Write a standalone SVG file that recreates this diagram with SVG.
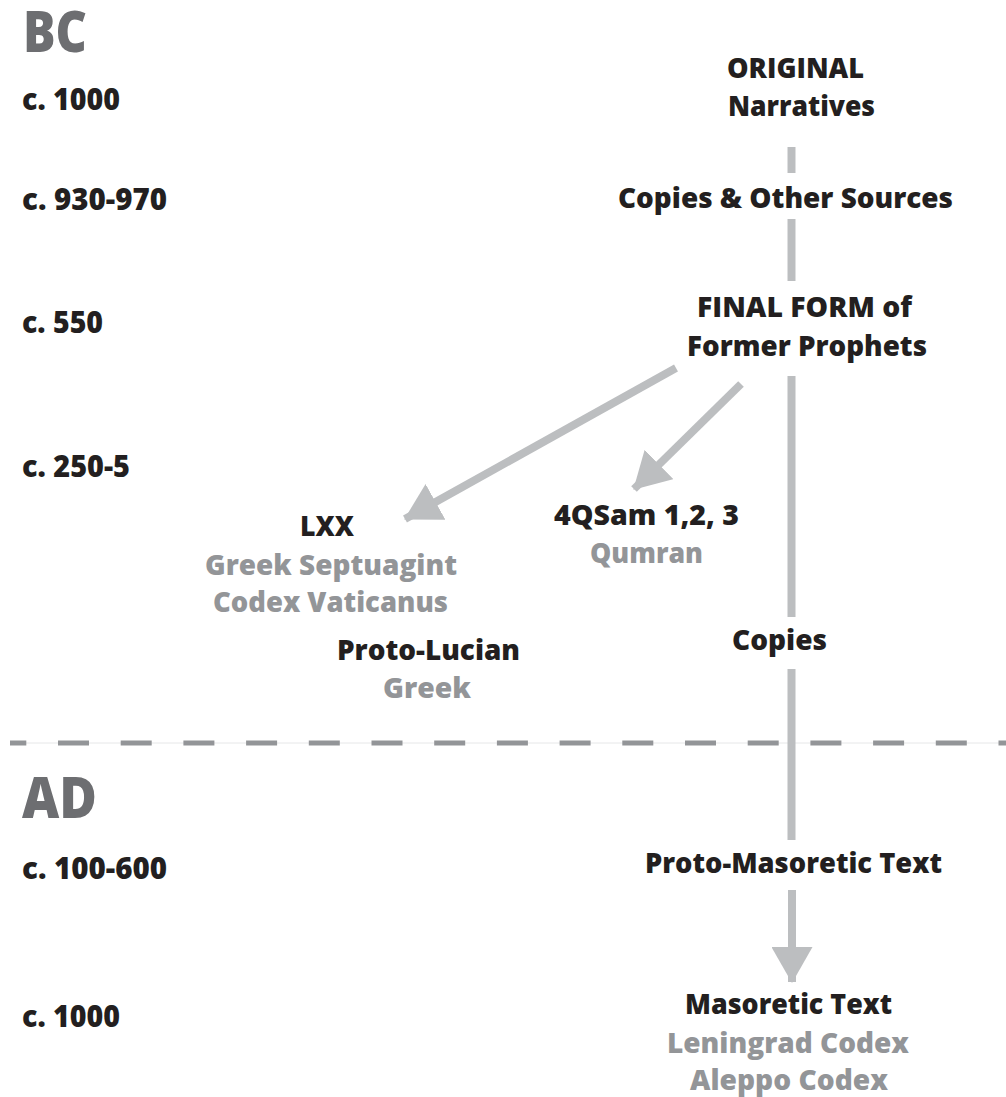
<svg xmlns="http://www.w3.org/2000/svg" width="1006" height="1097" viewBox="0 0 1006 1097">
  <style>
    text { font-family: "Open Sans", "Noto Sans", "Liberation Sans", sans-serif; font-weight: 800; }
    .lbl { font-size: 28px; fill: #231f20; text-anchor: middle; }
    .sub { font-size: 28px; fill: #939598; text-anchor: middle; }
    .date { font-size: 30px; fill: #231f20; }
    .era { font-size: 56px; fill: #6d6e71; }
    .conn { stroke: #bcbec0; stroke-width: 8; fill: none; stroke-linecap: butt; }
  </style>
  <defs>
    <marker id="head" markerUnits="userSpaceOnUse" viewBox="0 0 36 41" markerWidth="36" markerHeight="41" refX="35" refY="20.5" orient="auto">
      <path d="M0,0 L36,20.5 L0,41 Z" fill="#bcbec0"/>
    </marker>
  </defs>
  <rect width="1006" height="1097" fill="#ffffff"/>

  <g id="era-divider">
    <line x1="10" y1="743" x2="1006" y2="743" stroke="#e6e7e8" stroke-width="1"/>
    <line x1="10" y1="743" x2="1006" y2="743" stroke="#939598" stroke-width="5" stroke-dasharray="31 31.7" stroke-dashoffset="14.7"/>
  </g>

  <g id="timeline">
    <text id="era-bc" class="era" x="23" y="52" textLength="64" lengthAdjust="spacingAndGlyphs">BC</text>
    <text class="date" x="22" y="110" textLength="98" lengthAdjust="spacingAndGlyphs">c. 1000</text>
    <text class="date" x="22" y="210" textLength="145" lengthAdjust="spacingAndGlyphs">c. 930-970</text>
    <text class="date" x="22" y="333" textLength="81" lengthAdjust="spacingAndGlyphs">c. 550</text>
    <text class="date" x="22" y="477" textLength="108" lengthAdjust="spacingAndGlyphs">c. 250-5</text>
    <text id="era-ad" class="era" x="22" y="818" textLength="75" lengthAdjust="spacingAndGlyphs">AD</text>
    <text class="date" x="22" y="879" textLength="145" lengthAdjust="spacingAndGlyphs">c. 100-600</text>
    <text class="date" x="22" y="1027" textLength="98" lengthAdjust="spacingAndGlyphs">c. 1000</text>
  </g>

  <g id="connectors">
    <line class="conn" x1="791.5" y1="147" x2="791.5" y2="173"/>
    <line class="conn" x1="791.5" y1="219" x2="791.5" y2="281"/>
    <line class="conn" x1="791.5" y1="376" x2="791.5" y2="617"/>
    <line class="conn" x1="791.5" y1="669" x2="791.5" y2="840"/>
    <line class="conn" x1="676" y1="368" x2="405" y2="519" marker-end="url(#head)"/>
    <line class="conn" x1="741" y1="384" x2="634" y2="489" marker-end="url(#head)"/>
    <line class="conn" x1="792" y1="890" x2="792" y2="982" marker-end="url(#head)"/>
  </g>

  <g id="node-original">
    <text class="lbl" x="795.5" y="78" textLength="137" lengthAdjust="spacingAndGlyphs">ORIGINAL</text>
    <text class="lbl" x="801.5" y="116" textLength="147" lengthAdjust="spacingAndGlyphs">Narratives</text>
  </g>
  <g id="node-copies-sources">
    <text class="lbl" x="785.5" y="208" textLength="335" lengthAdjust="spacingAndGlyphs">Copies &amp; Other Sources</text>
  </g>
  <g id="node-final-form">
    <text class="lbl" x="804.5" y="317" textLength="215" lengthAdjust="spacingAndGlyphs">FINAL FORM of</text>
    <text class="lbl" x="807" y="356" textLength="240" lengthAdjust="spacingAndGlyphs">Former Prophets</text>
  </g>
  <g id="node-lxx">
    <text class="lbl" x="327" y="536" textLength="54" lengthAdjust="spacingAndGlyphs">LXX</text>
    <text class="sub" x="331" y="575" textLength="252" lengthAdjust="spacingAndGlyphs">Greek Septuagint</text>
    <text class="sub" x="330.5" y="612" textLength="235" lengthAdjust="spacingAndGlyphs">Codex Vaticanus</text>
  </g>
  <g id="node-proto-lucian">
    <text class="lbl" x="428.5" y="660" textLength="183" lengthAdjust="spacingAndGlyphs">Proto-Lucian</text>
    <text class="sub" x="427" y="698" textLength="88" lengthAdjust="spacingAndGlyphs">Greek</text>
  </g>
  <g id="node-4qsam">
    <text class="lbl" x="646.5" y="525" textLength="185" lengthAdjust="spacingAndGlyphs">4QSam 1,2, 3</text>
    <text class="sub" x="646.5" y="563" textLength="113" lengthAdjust="spacingAndGlyphs">Qumran</text>
  </g>
  <g id="node-copies">
    <text class="lbl" x="779.5" y="650" textLength="95" lengthAdjust="spacingAndGlyphs">Copies</text>
  </g>
  <g id="node-proto-masoretic">
    <text class="lbl" x="793.5" y="873" textLength="297" lengthAdjust="spacingAndGlyphs">Proto-Masoretic Text</text>
  </g>
  <g id="node-masoretic">
    <text class="lbl" x="788.5" y="1014" textLength="207" lengthAdjust="spacingAndGlyphs">Masoretic Text</text>
    <text class="sub" x="788" y="1053" textLength="242" lengthAdjust="spacingAndGlyphs">Leningrad Codex</text>
    <text class="sub" x="789" y="1090" textLength="198" lengthAdjust="spacingAndGlyphs">Aleppo Codex</text>
  </g>
</svg>
